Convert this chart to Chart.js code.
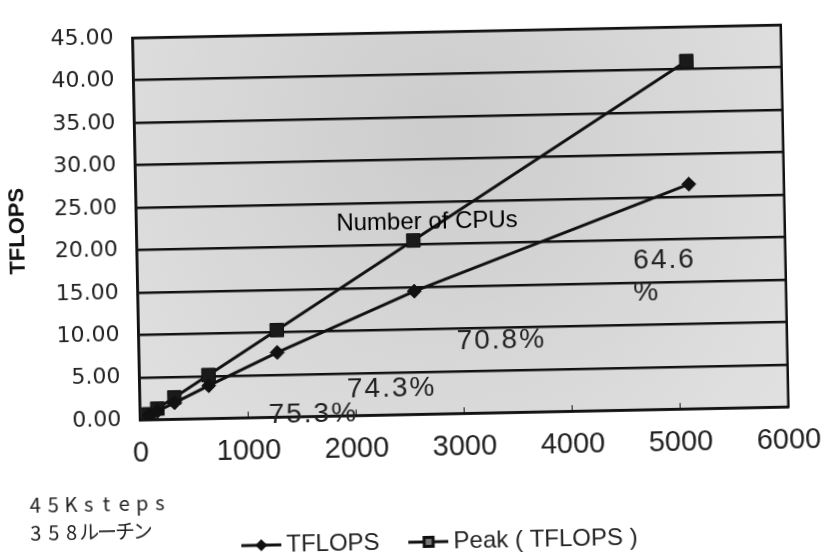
<!DOCTYPE html>
<html>
<head>
<meta charset="utf-8">
<script src="https://cdn.jsdelivr.net/npm/chart.js@4"></script>
<style>
  html, body { margin: 0; padding: 0; background: #fff; overflow: hidden; }
  /* the original is a slightly skewed scan */
  #wrap { width: 840px; height: 557px; transform: rotate(-1.15deg); transform-origin: 420px 278.5px; }
</style>
</head>
<body>
<div id="wrap"><canvas id="chart" width="840" height="557"></canvas></div>
<script>
// Number of CPUs vs sustained / peak TFLOPS
const cpuCounts = [80, 160, 320, 640, 1280, 2560, 5120];
const tflops = [0.49, 0.97, 1.93, 3.86, 7.61, 14.50, 26.46];
const peakTflops = [0.64, 1.28, 2.56, 5.12, 10.24, 20.48, 40.96];
const xTicks = [0, 1000, 2000, 3000, 4000, 5000, 6000];
const yTicks = [0, 5, 10, 15, 20, 25, 30, 35, 40, 45];

// notes written inside the plot, placed in data units
const noteTexts = ['Number of CPUs', '64.6', '%', '70.8%', '74.3%', '75.3%'];
const noteX = [2690, 4881, 4711, 3356, 2332, 1602];
const noteY = [22.6, 17.5, 13.8, 8.45, 3.03, 0.26];

// text under the chart
const sideNotes = ['45Ksteps', '358ルーチン'];

function legendIcon(shape) {
    const c = document.createElement('canvas');
    c.width = 40;
    c.height = 16;
    const g = c.getContext('2d');
    g.strokeStyle = '#111';
    g.lineWidth = 3;
    g.beginPath();
    g.moveTo(0, 8);
    g.lineTo(40, 8);
    g.stroke();
    g.fillStyle = '#111';
    if (shape === 'diamond') {
        g.beginPath();
        g.moveTo(20, 2); g.lineTo(26, 8); g.lineTo(20, 14); g.lineTo(14, 8);
        g.closePath();
        g.fill();
    } else {
        g.fillRect(14, 2, 12, 12);
        g.fillStyle = '#777';
        g.fillRect(17, 5, 6, 6);
    }
    return c;
}
const legendIcons = [legendIcon('diamond'), legendIcon('square')];

const plotFrame = {
    id: 'plotFrame',
    beforeDraw(chart) {
        const { ctx, chartArea: a } = chart;
        const g = ctx.createRadialGradient(450, 130, 20, 450, 160, 480);
        g.addColorStop(0, '#cdcdcd');
        g.addColorStop(1, '#e4e4e4');
        ctx.save();
        ctx.fillStyle = g;
        ctx.fillRect(a.left, a.top, a.width, a.height);
        ctx.restore();
    },
    beforeDatasetsDraw(chart) {
        const { ctx, chartArea: a } = chart;
        ctx.save();
        ctx.strokeStyle = '#111';
        ctx.lineWidth = 2.5;
        ctx.strokeRect(a.left, a.top, a.width, a.height);
        ctx.restore();
    }
};

const notes = {
    id: 'notes',
    afterDatasetsDraw(chart) {
        const { ctx, scales: { x, y } } = chart;
        ctx.save();
        ctx.textAlign = 'center';
        ctx.textBaseline = 'middle';
        noteTexts.forEach((t, i) => {
            if (i === 0) {
                ctx.font = '24px "Liberation Sans", Arial, sans-serif';
                ctx.fillStyle = '#000';
                ctx.letterSpacing = '0px';
            } else {
                ctx.font = '28px "Liberation Sans", Arial, sans-serif';
                ctx.fillStyle = '#222';
                ctx.letterSpacing = '2px';
            }
            ctx.fillText(t, x.getPixelForValue(noteX[i]), y.getPixelForValue(noteY[i]));
        });
        ctx.restore();
    },
    afterDraw(chart) {
        // the two lines at the bottom left, typed on a fixed character pitch
        const ctx = chart.ctx;
        ctx.save();
        ctx.font = '20px "Noto Sans CJK JP", sans-serif';
        ctx.fillStyle = '#222';
        ctx.textAlign = 'center';
        ctx.textBaseline = 'middle';
        sideNotes.forEach((t, row) => {
            [...t].forEach((ch, k) => {
                ctx.fillText(ch, 22 + 17.8 * k + 8.9, 497 + row * 28);
            });
        });
        ctx.restore();
    }
};

const legendShift = {
    id: 'legendShift',
    afterLayout(chart) {
        const lg = chart.legend;
        lg.left += 38;
        lg.right += 38;
        lg.top += 7;
        lg.bottom += 7;
    }
};

new Chart(document.getElementById('chart'), {
    type: 'scatter',
    data: {
        datasets: [
            {
                label: 'TFLOPS',
                data: cpuCounts.map((c, i) => ({ x: c, y: tflops[i] })),
                showLine: true,
                borderColor: '#111',
                borderWidth: 3,
                pointStyle: 'rectRot',
                pointRadius: 7,
                pointBackgroundColor: '#111',
                pointBorderColor: '#111',
                pointBorderWidth: 1
            },
            {
                label: 'Peak ( TFLOPS )',
                data: cpuCounts.map((c, i) => ({ x: c, y: peakTflops[i] })),
                showLine: true,
                borderColor: '#111',
                borderWidth: 3,
                pointStyle: 'rect',
                pointRadius: 9.5,
                pointBackgroundColor: '#1a1a1a',
                pointBorderColor: '#111',
                pointBorderWidth: 1
            }
        ]
    },
    options: {
        responsive: false,
        animation: false,
        layout: { padding: { left: 0, right: 40.6, top: 18.2, bottom: 0 } },
        plugins: {
            tooltip: { enabled: false },
            legend: {
                position: 'bottom',
                labels: {
                    usePointStyle: true,
                    pointStyleWidth: 26,
                    padding: 36,
                    color: '#222',
                    font: { family: '"Liberation Sans", Arial, sans-serif', size: 24 },
                    generateLabels(chart) {
                        return chart.data.datasets.map((ds, i) => ({
                            text: ds.label,
                            pointStyle: legendIcons[i],
                            datasetIndex: i,
                            hidden: false,
                            lineWidth: 0,
                            fontColor: '#222'
                        }));
                    }
                }
            }
        },
        scales: {
            x: {
                type: 'linear',
                min: 0,
                max: 6000,
                afterBuildTicks: s => { s.ticks = xTicks.map(v => ({ value: v })); },
                afterFit: s => { s.height = 72.8; },
                grid: { drawOnChartArea: false, color: '#111', lineWidth: 1, tickLength: -6 },
                border: { color: '#111', width: 2.5 },
                ticks: {
                    padding: 22,
                    maxRotation: 0,
                    color: '#222',
                    font: { family: '"Liberation Sans", Arial, sans-serif', size: 29 },
                    callback: v => String(v)
                }
            },
            y: {
                min: 0,
                max: 45,
                afterBuildTicks: s => { s.ticks = yTicks.map(v => ({ value: v })); },
                afterFit: s => { s.width = 137.5; },
                grid: { color: '#111', lineWidth: 2.5, drawTicks: false },
                border: { color: '#111', width: 2.5 },
                ticks: {
                    padding: 19,
                    color: '#222',
                    font: { family: '"DejaVu Sans", sans-serif', size: 22 },
                    callback: v => Number(v).toFixed(2)
                },
                title: {
                    display: true,
                    text: 'TFLOPS',
                    color: '#111',
                    font: { family: '"Liberation Sans", Arial, sans-serif', size: 22, weight: 'bold' },
                    padding: { top: 6, bottom: 0 }
                }
            }
        }
    },
    plugins: [plotFrame, notes, legendShift]
});
</script>
</body>
</html>
